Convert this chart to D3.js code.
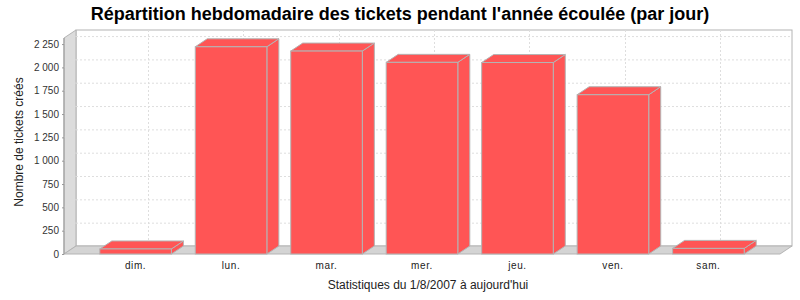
<!DOCTYPE html>
<html>
<head>
<meta charset="utf-8">
<script src="https://cdn.jsdelivr.net/npm/d3@7"></script>
<style>
  body { margin: 0; background: #fff; }
  text { font-family: "Liberation Sans", Arial, sans-serif; }
</style>
</head>
<body>
<div id="chart"></div>
<script>
const categories = ["dim.", "lun.", "mar.", "mer.", "jeu.", "ven.", "sam."];
const tickets = [54, 2221, 2175, 2054, 2052, 1707, 60];
const yTicks = [0, 250, 500, 750, 1000, 1250, 1500, 1750, 2000, 2250];
const yMax = 2315;

const W = 800, H = 300;
const dx = 12, dy = 8; // 3d depth offset
const plotLeft = 64, plotRight = 780, plotTop = 38, plotBottom = 254;

const fr = d3.formatLocale({ decimal: ",", thousands: "\u00a0", grouping: [3], currency: ["", " €"] });
const fmt = fr.format(",d");

const svg = d3.select("#chart").append("svg")
    .attr("width", W)
    .attr("height", H);

const x = d3.scaleBand()
    .domain(categories)
    .range([plotLeft, plotRight])
    .paddingInner(0.25)
    .paddingOuter(0.375);

const y = d3.scaleLinear()
    .domain([0, yMax])
    .range([plotBottom, plotTop]);

// walls
svg.append("rect")
    .attr("x", plotLeft + dx).attr("y", plotTop - dy)
    .attr("width", plotRight - plotLeft).attr("height", plotBottom - plotTop)
    .attr("fill", "#fff").attr("stroke", "#b4b4b4");

svg.append("polygon")
    .attr("points", [[plotLeft, plotTop], [plotLeft + dx, plotTop - dy], [plotLeft + dx, plotBottom - dy], [plotLeft, plotBottom]].join(" "))
    .attr("fill", "#dcdcdc").attr("stroke", "#b4b4b4");

svg.append("polygon")
    .attr("points", [[plotLeft, plotBottom], [plotLeft + dx, plotBottom - dy], [plotRight + dx, plotBottom - dy], [plotRight, plotBottom]].join(" "))
    .attr("fill", "#d4d4d4").attr("stroke", "#b4b4b4");

// grid lines on back wall + left wall
const grid = svg.append("g").attr("stroke", "#dedede").attr("stroke-dasharray", "2,2");
yTicks.filter(d => d > 0).forEach(d => {
    grid.append("line")
        .attr("x1", plotLeft + dx).attr("x2", plotRight + dx)
        .attr("y1", y(d) - dy + 0.5).attr("y2", y(d) - dy + 0.5);
    grid.append("line")
        .attr("x1", plotLeft).attr("x2", plotLeft + dx)
        .attr("y1", y(d)).attr("y2", y(d) - dy);
});
categories.forEach(c => {
    const cx = Math.round(x(c) + x.bandwidth() / 2 + dx) + 0.5;
    grid.append("line")
        .attr("x1", cx).attr("x2", cx)
        .attr("y1", plotTop - dy).attr("y2", plotBottom - dy);
});

// bars
const bars = svg.selectAll(".bar")
    .data(categories.map((c, i) => ({ c, v: tickets[i] })))
    .enter().append("g")
    .attr("class", "bar")
    .attr("fill", "#ff5555")
    .attr("stroke", "#b4b4b4");

bars.append("polygon")
    .attr("points", d => {
        const x0 = x(d.c), x1 = x0 + x.bandwidth(), yt = y(d.v);
        return [[x1, yt], [x1 + dx, yt - dy], [x1 + dx, plotBottom - dy], [x1, plotBottom]].join(" ");
    });
bars.append("polygon")
    .attr("points", d => {
        const x0 = x(d.c), x1 = x0 + x.bandwidth(), yt = y(d.v);
        return [[x0, yt], [x0 + dx, yt - dy], [x1 + dx, yt - dy], [x1, yt]].join(" ");
    });
bars.append("rect")
    .attr("x", d => x(d.c))
    .attr("y", d => y(d.v))
    .attr("width", x.bandwidth())
    .attr("height", d => plotBottom - y(d.v));

// y axis
const yAxis = svg.append("g")
    .attr("transform", `translate(${plotLeft},0)`)
    .call(d3.axisLeft(y).tickValues(yTicks).tickFormat(fmt).tickSize(2).tickPadding(3));
yAxis.select(".domain").attr("stroke", "#999").attr("d", `M0,${plotTop}V${plotBottom}`);
yAxis.selectAll(".tick line").attr("stroke", "#999");
yAxis.selectAll(".tick text")
    .attr("font-size", "10px")
    .attr("fill", "#333")
    .style("font-family", "Liberation Sans, Arial, sans-serif");

// x axis labels
const xAxis = svg.append("g")
    .attr("transform", `translate(0,${plotBottom})`)
    .call(d3.axisBottom(x).tickSize(0).tickPadding(8));
xAxis.select(".domain").remove();
xAxis.selectAll(".tick text")
    .attr("font-size", "10px")
    .attr("fill", "#222")
    .attr("letter-spacing", "0.6px")
    .style("font-family", "Liberation Sans, Arial, sans-serif");

// titles
svg.append("text")
    .attr("x", 400).attr("y", 20)
    .attr("text-anchor", "middle")
    .attr("font-size", "18px")
    .attr("font-weight", "bold")
    .attr("fill", "#000")
    .text("Répartition hebdomadaire des tickets pendant l'année écoulée (par jour)");

svg.append("text")
    .attr("x", (plotLeft + plotRight + dx) / 2).attr("y", 289)
    .attr("text-anchor", "middle")
    .attr("font-size", "12px")
    .attr("fill", "#222")
    .text("Statistiques du 1/8/2007 à aujourd'hui");

svg.append("text")
    .attr("transform", `translate(23,${(plotTop + plotBottom - dy) / 2}) rotate(-90)`)
    .attr("text-anchor", "middle")
    .attr("font-size", "12px")
    .attr("fill", "#222")
    .text("Nombre de tickets créés");
</script>
</body>
</html>
